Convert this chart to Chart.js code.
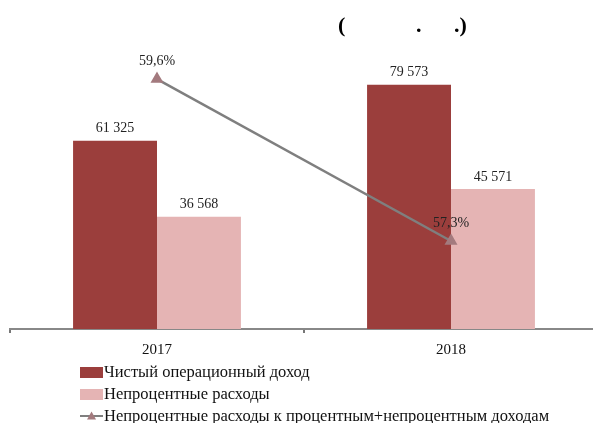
<!DOCTYPE html>
<html>
<head>
<meta charset="utf-8">
<script src="https://cdn.jsdelivr.net/npm/chart.js@4/dist/chart.umd.min.js"></script>
<style>
  html, body { margin: 0; padding: 0; background: #fff; overflow: hidden; }
  body { width: 593px; height: 423px; position: relative; font-family: "Liberation Serif", "DejaVu Serif", serif; }
  #wrap { position: absolute; left: 0; top: 0; width: 612px; height: 423px; }
  .ttl { position: absolute; top: 12px; font-size: 22px; font-weight: bold; white-space: pre; }
  .legend { position: absolute; left: 80px; top: 361px; font-size: 16.5px; color: #111; }
  .legend div { height: 22px; line-height: 22px; display: flex; align-items: center; }
  .box { display: inline-block; width: 23px; height: 11px; margin-right: 1px; }
  svg { margin-right: 1px; }
</style>
</head>
<body>
<div id="wrap"><canvas id="chart"></canvas></div>
<span class="ttl" style="left:338px">(</span>
<span class="ttl" style="left:416px">.</span>
<span class="ttl" style="left:454px">.)</span>
<div class="legend" id="legend"></div>
<script>
'use strict';

const years = ['2017', '2018'];
const netIncome = [61325, 79573];
const nonInterestCost = [36568, 45571];
const costRatio = [59.6, 57.3];

const seriesNames = [
    'Чистый операционный доход',
    'Непроцентные расходы',
    'Непроцентные расходы к процентным+непроцентным доходам'
];

const darkRed = '#9b3e3c';
const pink = '#e5b4b4';
const lineGray = '#7f7f7f';
const markerColor = '#a37a7e';

function fmt(v) {
    return v.toLocaleString('ru-RU').replace(/\s/g, ' ');
}

// value labels above the bars and the line points
const valueLabels = {
    id: 'valueLabels',
    afterDatasetsDraw(chart) {
        const ctx = chart.ctx;
        ctx.save();
        ctx.fillStyle = '#222';
        ctx.font = '14px "Liberation Serif", serif';
        ctx.textAlign = 'center';
        ctx.textBaseline = 'bottom';
        chart.data.datasets.forEach((ds, i) => {
            const meta = chart.getDatasetMeta(i);
            meta.data.forEach((el, j) => {
                if (ds.type === 'line') {
                    ctx.fillText(ds.data[j].toFixed(1).replace('.', ',') + '%', el.x, el.y - 11);
                } else {
                    ctx.fillText(fmt(ds.data[j]), el.x, el.y - 5);
                }
            });
        });
        ctx.restore();
    }
};

const ctx = document.getElementById('chart');
new Chart(ctx, {
    type: 'bar',
    data: {
        labels: years,
        datasets: [
            {
                type: 'line',
                label: seriesNames[2],
                data: costRatio,
                yAxisID: 'y1',
                borderColor: lineGray,
                borderWidth: 2.5,
                pointStyle: 'triangle',
                pointRadius: 5,
                pointBackgroundColor: markerColor,
                pointBorderColor: markerColor,
                tension: 0,
                order: 0
            },
            {
                label: seriesNames[0],
                data: netIncome,
                backgroundColor: darkRed,
                order: 1
            },
            {
                label: seriesNames[1],
                data: nonInterestCost,
                backgroundColor: pink,
                order: 1
            }
        ]
    },
    options: {
        responsive: true,
        maintainAspectRatio: false,
        animation: false,
        layout: { padding: { left: 10, right: 14, top: 22, bottom: 56 } },
        datasets: { bar: { categoryPercentage: 0.571, barPercentage: 1 } },
        plugins: {
            legend: { display: false },
            tooltip: { enabled: false }
        },
        scales: {
            x: {
                offset: true,
                grid: {
                    offset: true,
                    drawOnChartArea: false,
                    drawTicks: true,
                    tickLength: 4,
                    color: '#777',
                    lineWidth: 2
                },
                border: { display: true, color: '#888', width: 2 },
                ticks: {
                    color: '#111',
                    padding: 8,
                    font: { family: '"Liberation Serif", serif', size: 15 }
                }
            },
            y: {
                display: false,
                min: 0,
                max: 100000
            },
            y1: {
                display: false,
                min: 56.05,
                max: 60.41
            }
        }
    },
    plugins: [valueLabels]
});

// legend built by hand: vertical list under the axis
const legend = document.getElementById('legend');
const marks = [
    `<span class="box" style="background:${darkRed}"></span>`,
    `<span class="box" style="background:${pink}"></span>`,
    `<svg width="23" height="12"><line x1="0" y1="6" x2="23" y2="6" stroke="${lineGray}" stroke-width="2"/>` +
        `<polygon points="11.5,1.5 16,9.5 7,9.5" fill="${markerColor}"/></svg>`
];
seriesNames.forEach((name, i) => {
    const row = document.createElement('div');
    row.innerHTML = marks[i] + '<span>' + name + '</span>';
    legend.appendChild(row);
});
</script>
</body>
</html>
